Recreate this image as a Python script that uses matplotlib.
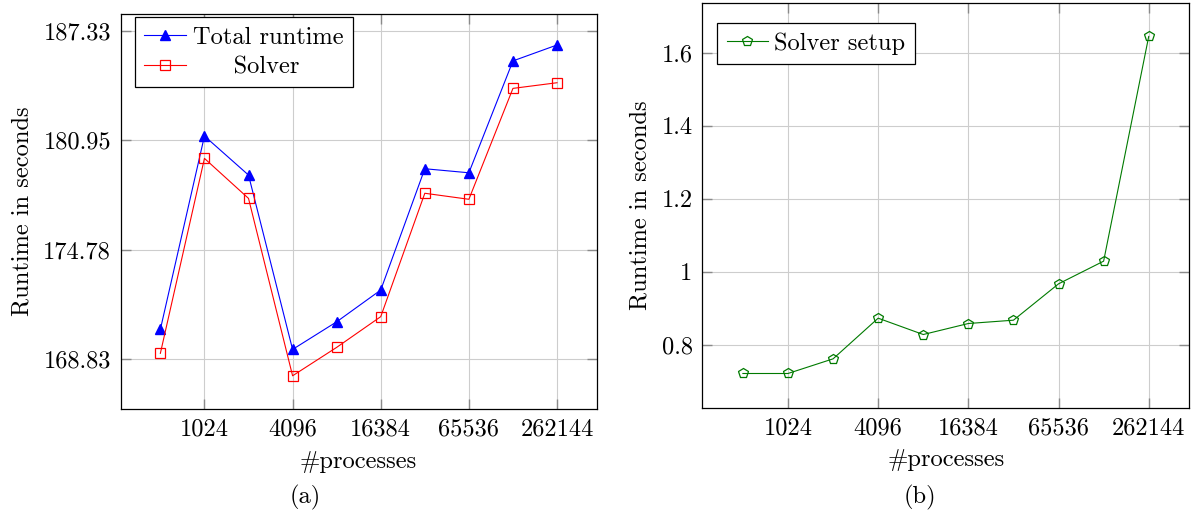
import numpy as np
import matplotlib
matplotlib.use('Agg')
import matplotlib.pyplot as plt
from matplotlib.ticker import FixedLocator, FixedFormatter, NullLocator

FS = 17.6
plt.rcParams['font.family'] = ['cmr10', 'DejaVu Serif']
plt.rcParams['axes.formatter.use_mathtext'] = True
plt.rcParams['font.size'] = FS

# number of processes
procs = [512, 1024, 2048, 4096, 8192, 16384, 32768, 65536, 131072, 262144]
xtick_vals = [1024, 4096, 16384, 65536, 262144]

# (a) runtimes in seconds
total_runtime = [170.41, 181.19, 178.96, 169.33, 170.82, 172.55, 179.32, 179.09, 185.56, 186.50]
solver = [169.12, 179.91, 177.64, 167.92, 169.44, 171.10, 177.93, 177.59, 183.95, 184.28]
ytick_a = [168.83, 174.78, 180.95, 187.33]

# (b) solver setup in seconds
solver_setup = [0.7205, 0.7205, 0.7607, 0.8722, 0.8274, 0.8576, 0.8667, 0.9664, 1.0286, 1.6448]
ytick_b = [0.8, 1.0, 1.2, 1.4, 1.6]

W, H = 1195, 516
fig = plt.figure(figsize=(W / 100, H / 100), dpi=100)


def px_axes(l, t, r, b):
    return fig.add_axes([l / W, 1 - b / H, (r - l) / W, (b - t) / H])


def style(ax):
    ax.set_xscale('log', base=2)
    ax.set_xlim(2 ** 8.1, 2 ** 18.9)
    ax.xaxis.set_major_locator(FixedLocator(xtick_vals))
    ax.xaxis.set_major_formatter(FixedFormatter([str(v) for v in xtick_vals]))
    ax.xaxis.set_minor_locator(NullLocator())
    ax.grid(True, color='#cdcdcd', linewidth=0.8)
    ax.set_axisbelow(True)
    ax.tick_params(direction='in', length=7, width=1.0, color='#8a8a8a',
                   top=True, right=True, pad=7, labelsize=FS)
    ax.tick_params(which='minor', length=0)
    for s in ax.spines.values():
        s.set_linewidth(0.9)
    ax.set_xlabel('#processes', labelpad=7)
    ax.set_ylabel('Runtime in seconds', labelpad=7)


# left panel
ax1 = px_axes(120.7, 13.7, 596.7, 409)
ax1.plot(procs, total_runtime, color='blue', marker='^', markersize=7.5,
         linewidth=0.8, label='Total runtime')
ax1.plot(procs, solver, color='red', marker='s', markersize=7.5, mfc='none',
         mew=0.9, linewidth=0.8, label='     Solver')
style(ax1)
ax1.set_yscale('log', base=2)
ax1.set_ylim(166.16, 188.36)
ax1.yaxis.set_major_locator(FixedLocator(ytick_a))
ax1.yaxis.set_major_formatter(FixedFormatter(['%.2f' % v for v in ytick_a]))
ax1.yaxis.set_minor_locator(NullLocator())
leg1 = ax1.legend(loc='upper left', bbox_to_anchor=(0.030, 0.991), borderaxespad=0,
                  fancybox=False, framealpha=1, edgecolor='black', handlelength=1.7,
                  handletextpad=0.3, labelspacing=0.3, borderpad=0.38, fontsize=FS)
leg1.get_frame().set_linewidth(0.9)

# right panel
ax2 = px_axes(702.3, 3, 1189.3, 407.7)
ax2.plot(procs, solver_setup, color='#007a00', marker='p', markersize=7.5, mfc='none',
         mew=0.9, linewidth=0.8, label='Solver setup')
style(ax2)
ax2.set_ylim(0.6267, 1.7366)
ax2.yaxis.set_major_locator(FixedLocator(ytick_b))
ax2.yaxis.set_major_formatter(FixedFormatter(['0.8', '1', '1.2', '1.4', '1.6']))
leg2 = ax2.legend(loc='upper left', bbox_to_anchor=(0.031, 0.951), borderaxespad=0,
                  fancybox=False, framealpha=1, edgecolor='black', handlelength=1.7,
                  handletextpad=0.25, borderpad=0.38, fontsize=FS)
leg2.get_frame().set_linewidth(0.9)

fig.text(305 / W, 1 - 497 / H, '(a)', ha='center', va='center', fontsize=FS)
fig.text(920 / W, 1 - 497 / H, '(b)', ha='center', va='center', fontsize=FS)

fig.savefig('out.png', dpi=100)
